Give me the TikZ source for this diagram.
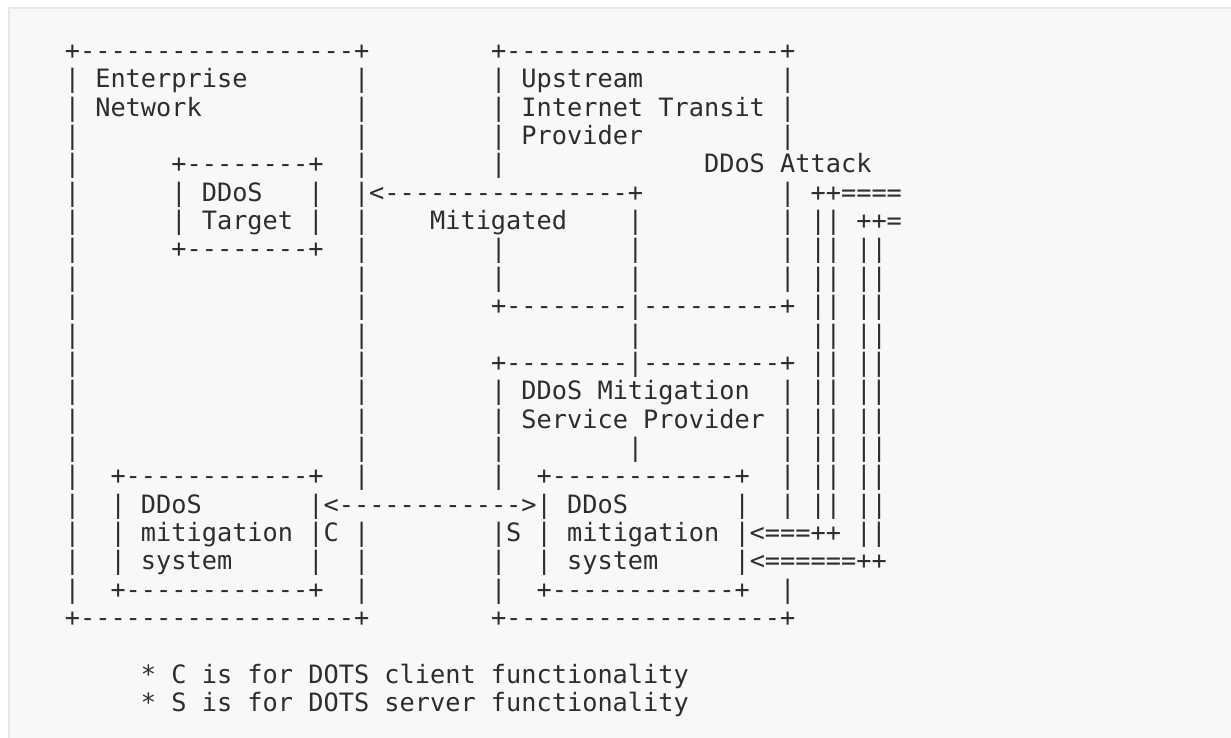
\documentclass[tikz,border=0pt]{standalone}
\usepackage{fontspec}
\setmonofont{DejaVu Sans Mono}
\definecolor{panelfill}{RGB}{248,248,248}
\definecolor{panelline}{RGB}{232,232,232}
\definecolor{ink}{RGB}{45,45,45}
\newcommand\spE{~~~~~~~~}
\newcommand\spX{~~~~~~~~~~~~~~~~~~}
\newcommand\dX{------------------}
\tikzset{asciirow/.style={anchor=base west, inner sep=0pt, outer sep=0pt, text=ink,
  font=\ttfamily\fontsize{25.28pt}{28.35pt}\selectfont}}
\begin{document}
\begin{tikzpicture}[x=1pt,y=1pt]
\useasboundingbox (0,0) rectangle (1231,-737);
\fill[white] (0,0) rectangle (1231,-737);
\draw[panelline, line width=2.2pt, fill=panelfill] (8.6,-7.7) rectangle (1280,-790);
\def\xo{19.2}
\newcommand\rowy[1]{-59.5-28.35*#1}
\node[asciirow] (row0) at (\xo,{\rowy{0}}) {~~~+\dX+\spE+\dX+};
\node[asciirow] (row1) at (\xo,{\rowy{1}}) {~~~|~Enterprise~~~~~~~|\spE|~Upstream~~~~~~~~~|};
\node[asciirow] (row2) at (\xo,{\rowy{2}}) {~~~|~Network~~~~~~~~~~|\spE|~Internet~Transit~|};
\node[asciirow] (row3) at (\xo,{\rowy{3}}) {~~~|\spX|\spE|~Provider~~~~~~~~~|};
\node[asciirow] (row4) at (\xo,{\rowy{4}}) {~~~|~~~~~~+--------+~~|\spE|~~~~~~~~~~~~~DDoS~Attack};
\node[asciirow] (row5) at (\xo,{\rowy{5}}) {~~~|~~~~~~|~DDoS~~~|~~|<----------------+~~~~~~~~~|~++====};
\node[asciirow] (row6) at (\xo,{\rowy{6}}) {~~~|~~~~~~|~Target~|~~|~~~~Mitigated~~~~|~~~~~~~~~|~||~++=};
\node[asciirow] (row7) at (\xo,{\rowy{7}}) {~~~|~~~~~~+--------+~~|\spE|\spE|~~~~~~~~~|~||~||};
\node[asciirow] (row8) at (\xo,{\rowy{8}}) {~~~|\spX|\spE|\spE|~~~~~~~~~|~||~||};
\node[asciirow] (row9) at (\xo,{\rowy{9}}) {~~~|\spX|\spE+--------|---------+~||~||};
\node[asciirow] (row10) at (\xo,{\rowy{10}}) {~~~|\spX|~~~~~~~~~~~~~~~~~|~~~~~~~~~~~||~||};
\node[asciirow] (row11) at (\xo,{\rowy{11}}) {~~~|\spX|\spE+--------|---------+~||~||};
\node[asciirow] (row12) at (\xo,{\rowy{12}}) {~~~|\spX|\spE|~DDoS~Mitigation~~|~||~||};
\node[asciirow] (row13) at (\xo,{\rowy{13}}) {~~~|\spX|\spE|~Service~Provider~|~||~||};
\node[asciirow] (row14) at (\xo,{\rowy{14}}) {~~~|\spX|\spE|\spE|~~~~~~~~~|~||~||};
\node[asciirow] (row15) at (\xo,{\rowy{15}}) {~~~|~~+------------+~~|\spE|~~+------------+~~|~||~||};
\node[asciirow] (row16) at (\xo,{\rowy{16}}) {~~~|~~|~DDoS~~~~~~~|<------------>|~DDoS~~~~~~~|~~|~||~||};
\node[asciirow] (row17) at (\xo,{\rowy{17}}) {~~~|~~|~mitigation~|C~|\spE|S~|~mitigation~|<===++~||};
\node[asciirow] (row18) at (\xo,{\rowy{18}}) {~~~|~~|~system~~~~~|~~|\spE|~~|~system~~~~~|<======++};
\node[asciirow] (row19) at (\xo,{\rowy{19}}) {~~~|~~+------------+~~|\spE|~~+------------+~~|};
\node[asciirow] (row20) at (\xo,{\rowy{20}}) {~~~+\dX+\spE+\dX+};
\node[asciirow] (row22) at (\xo,{\rowy{22}}) {\spE*~C~is~for~DOTS~client~functionality};
\node[asciirow] (row23) at (\xo,{\rowy{23}}) {\spE*~S~is~for~DOTS~server~functionality};
\end{tikzpicture}
\end{document}
